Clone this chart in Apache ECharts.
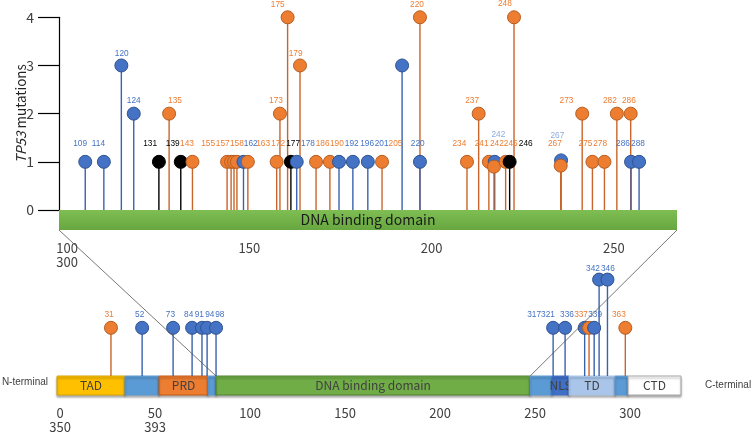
<!DOCTYPE html>
<html><head><meta charset="utf-8">
<script src="https://cdn.jsdelivr.net/npm/echarts@6/dist/echarts.min.js"></script>
<style>html,body{margin:0;padding:0;background:#fff}#c{width:752px;height:434px}</style>
</head><body><div id="c"></div>
<script>
// ---------- TOP PANEL (DNA binding domain, zoomed) ----------
// lollipop position along the zoomed axis, mutation count, group (b=blue, o=orange, k=black)
const topPos = [105.0,110.1,114.9,118.3,125.2,128.0,131.2,134.4,143.9,145.0,145.8,146.6,148.4,149.6,157.5,158.4,160.5,161.4,163.0,163.9,168.3,172.1,174.6,178.4,182.5,186.4,191.9,196.8,196.8,209.7,212.9,215.7,217.3,217.1,220.3,221.4,222.6,235.5,235.4,241.3,244.1,247.4,250.8,254.6,254.7,256.9];
const topVal = [1,1,3,2,1,2,1,1,1,1,1,1,1,1,1,2,4,1,1,3,1,1,1,1,1,1,3,4,1,1,2,1,1,0.9,1,1,4,1.03,0.92,2,1,1,2,2,1,1];
const topGrp = ['b','b','b','b','k','o','k','o','o','o','o','o','b','o','o','o','o','k','b','o','o','o','b','b','b','o','b','o','b','o','o','o','b','o','o','k','o','b','o','o','o','o','o','o','b','b'];
// residue labels: text, position along axis, height (in mutation units), group
const topLabText = ['109','114','120','124','131','135','139','143','155','157','158','162','163','172','173','175','177','178','179','186','190','192','196','201','205','220','220','234','237','241','242','245','246','242','248','267','267','273','275','278','282','286','286','288'];
const topLabX = [103.6,108.6,115.0,118.3,122.8,129.6,129.0,132.9,138.7,142.7,146.6,150.4,153.8,157.9,157.3,157.8,162.0,166.1,162.7,170.1,174.0,178.1,182.3,186.3,190.1,196.2,196.0,207.6,211.1,213.7,217.9,221.7,225.8,218.3,220.1,234.5,233.8,237.0,242.2,246.2,248.9,254.1,252.5,256.6];
const topLabY = [1.37,1.37,3.24,2.26,1.37,2.26,1.37,1.37,1.37,1.37,1.37,1.37,1.37,1.37,2.26,4.27,1.37,1.37,3.24,1.37,1.37,1.37,1.37,1.37,1.37,1.37,4.27,1.37,2.26,1.37,1.37,1.37,1.37,1.56,4.28,1.54,1.37,2.26,1.37,1.37,2.26,2.26,1.37,1.37];
const topLabGrp = ['b','b','b','b','k','o','k','o','o','o','o','b','o','o','o','o','k','b','o','o','o','b','b','b','o','b','o','o','o','o','o','o','k','lb','o','lb','o','o','o','o','o','o','b','b'];
const topAxisTicks = [100,150,200,250];
const topAxisText = {100:'100\n300'};
const yTicks = [0,1,2,3,4];

// ---------- BOTTOM PANEL (full protein) ----------
const botPos = [26.8,43.2,59.5,69.5,74.7,77.4,82.1,259.5,265.8,276.1,278.4,281.1,283.7,288.1,297.5];
const botVal = [1,1,1,1,1,1,1,1,1,1,1,1,2,2,1];
const botGrp = ['o','b','b','b','b','b','b','b','b','b','o','b','b','b','o'];
const botLabText = ['31','52','73','84','91','94','98','317','321','336','337','339','342','346','363'];
const botLabX = [25.8,41.9,58.1,67.7,73.3,78.8,84.1,249.5,256.8,266.8,274.2,281.6,280.5,288.3,294.1];
const botLabY = [1.27,1.27,1.27,1.27,1.27,1.27,1.27,1.27,1.27,1.27,1.27,1.27,2.22,2.22,1.27];
const botLabGrp = ['o','b','b','b','b','b','b','b','b','b','o','b','b','b','o'];
const botAxisTicks = [0,50,100,150,200,250,300];
const botAxisText = {0:'0\n350',50:'50\n393'};

// domains
const domName  = ['TAD','','PRD','','DNA binding domain','','NLS','TD','','CTD'];
const domStart = [-1.6,34.2,52.1,77.9,82.1,247.4,258.9,267.9,292.1,298.9];
const domEnd   = [34.2,52.1,77.9,82.1,247.4,258.9,267.9,292.1,298.9,326.8];
const topDomName = ['DNA binding domain'];
const topDomStart = [97.8];
const topDomEnd = [267.3];

// ---------- styles ----------
const FONT = '"Noto Sans CJK SC", "Noto Sans", sans-serif';
const FONT2 = '"Liberation Sans", Arial, sans-serif';
const grpStyle = {
  b:{fill:'#4472C4', stroke:'#2F528F', stem:'#3A62AE'},
  o:{fill:'#ED7D31', stroke:'#B65E22', stem:'#C9652A'},
  k:{fill:'#000000', stroke:'#000000', stem:'#000000'}
};
const labColor = {b:'#4472C4', o:'#ED7D31', k:'#000000', lb:'#8FAADC'};
const domStyle = {
  'TAD':{fill:'#FFC000', stroke:'#D9A300'},
  '':{fill:'#5B9BD5', stroke:'#5B9BD5'},
  'PRD':{fill:'#ED7D31', stroke:'#C55A11'},
  'DNA binding domain':{fill:'#70AD47', stroke:'#548235'},
  'NLS':{fill:'#3F6FC6', stroke:'#3F6FC6'},
  'TD':{fill:'#A9C6EA', stroke:'#A9C6EA'},
  'CTD':{fill:'#FFFFFF', stroke:'#A6A6A6'}
};

const chart = echarts.init(document.getElementById('c'), null, {renderer:'canvas'});

function stems(pos, val, grp) {
  return function(params, api){
    const i = params.dataIndex;
    const b = api.coord([pos[i], 0]), t = api.coord([pos[i], val[i]]);
    return {type:'line', shape:{x1:b[0],y1:b[1],x2:t[0],y2:t[1]},
      style:{stroke:grpStyle[grp[i]].stem, lineWidth:1.4}};
  };
}
function heads(pos, val, grp) {
  return function(params, api){
    const i = params.dataIndex;
    const t = api.coord([pos[i], val[i]]);
    const s = grpStyle[grp[i]];
    return {type:'circle', shape:{cx:t[0], cy:t[1], r:6.5},
      style:{fill:s.fill, stroke:s.stroke, lineWidth:1}};
  };
}
function labels(txt, x, y, grp) {
  return function(params, api){
    const i = params.dataIndex;
    const p = api.coord([x[i], y[i]]);
    return {type:'text', x:p[0], y:p[1],
      style:{text:txt[i], fill:labColor[grp[i]], fontSize:8.3, fontFamily:FONT2, align:'center', verticalAlign:'middle'}};
  };
}
function domains(names, st, en, fontSize, fancy) {
  return function(params, api){
    const i = params.dataIndex;
    const a = api.coord([st[i], 1]), b = api.coord([en[i], 0]);
    const ds = domStyle[names[i]];
    let fill = ds.fill;
    if (fancy) fill = {type:'linear', x:0,y:0,x2:0,y2:1, colorStops:[{offset:0,color:'#7EBE53'},{offset:1,color:'#68A63F'}]};
    return {type:'group', children:[
      {type:'rect', shape:{x:a[0], y:a[1], width:b[0]-a[0], height:b[1]-a[1]},
        style:{fill:fill, stroke:ds.stroke, lineWidth:fancy?0:1, shadowBlur:fancy?4:2, shadowOffsetY:2, shadowOffsetX:fancy?2:0, shadowColor:'rgba(0,0,0,0.3)'}},
      {type:'text', x:(a[0]+b[0])/2, y:(a[1]+b[1])/2,
        style:{text:names[i], fill:fancy?'#1a1a1a':'#404040', fontSize:fontSize, fontFamily:FONT, align:'center', verticalAlign:'middle'}}
    ]};
  };
}
const idx = a => a.map((_,i)=>[i]);

const option = {
  animation:false,
  backgroundColor:'#fff',
  textStyle:{fontFamily:FONT},
  grid:[
    {left:59, width:618, top:17.3, height:192.7},
    {left:59, width:618, top:210, height:20},
    {left:57, width:624, top:279.6, height:96.4},
    {left:57, width:624, top:376, height:21}
  ],
  xAxis:[
    {gridIndex:0, type:'value', min:topDomStart[0], max:topDomEnd[0], show:false},
    {gridIndex:1, type:'value', min:topDomStart[0], max:topDomEnd[0],
      axisLine:{show:false}, axisTick:{show:false}, splitLine:{show:false},
      axisLabel:{customValues:topAxisTicks, margin:11, fontSize:13, lineHeight:14, color:'#404040', fontFamily:FONT,
        formatter:v=>topAxisText[v]||String(v)}},
    {gridIndex:2, type:'value', min:domStart[0], max:domEnd[domEnd.length-1], show:false},
    {gridIndex:3, type:'value', min:domStart[0], max:domEnd[domEnd.length-1],
      axisLine:{show:false}, axisTick:{show:false}, splitLine:{show:false},
      axisLabel:{customValues:botAxisTicks, margin:11, fontSize:13, lineHeight:14, color:'#404040', fontFamily:FONT,
        formatter:v=>botAxisText[v]||String(v)}}
  ],
  yAxis:[
    {gridIndex:0, type:'value', min:0, max:4, interval:1,
      axisLine:{show:true, lineStyle:{color:'#000', width:1.2}},
      axisTick:{show:true, length:21, customValues:yTicks, lineStyle:{color:'#000', width:1.2}},
      axisLabel:{customValues:yTicks, margin:25, fontSize:14, color:'#404040', fontFamily:FONT},
      splitLine:{show:false},
      name:'{i|TP53} mutations', nameLocation:'middle', nameRotate:90, nameGap:31, nameMoveOverlap:false,
      nameTextStyle:{fontSize:13.5, color:'#222', fontFamily:FONT, rich:{i:{fontStyle:'italic', fontSize:13.5, color:'#222', fontFamily:FONT}}}},
    {gridIndex:1, type:'value', min:0, max:1, show:false},
    {gridIndex:2, type:'value', min:0, max:2, show:false},
    {gridIndex:3, type:'value', min:0, max:1, show:false}
  ],
  series:[
    {type:'custom', xAxisIndex:1, yAxisIndex:1, clip:false, data:idx(topDomName), renderItem:domains(topDomName, topDomStart, topDomEnd, 14, true), z:1},
    {type:'custom', xAxisIndex:0, yAxisIndex:0, clip:false, data:idx(topPos), renderItem:stems(topPos, topVal, topGrp), z:2},
    {type:'custom', xAxisIndex:0, yAxisIndex:0, clip:false, data:idx(topPos), renderItem:heads(topPos, topVal, topGrp), z:3},
    {type:'custom', xAxisIndex:0, yAxisIndex:0, clip:false, data:idx(topLabText), renderItem:labels(topLabText, topLabX, topLabY, topLabGrp), z:4},
    {type:'custom', xAxisIndex:3, yAxisIndex:3, clip:false, data:idx(domName), renderItem:domains(domName, domStart, domEnd, 12, false), z:1},
    {type:'custom', xAxisIndex:2, yAxisIndex:2, clip:false, data:idx(botPos), renderItem:stems(botPos, botVal, botGrp), z:2},
    {type:'custom', xAxisIndex:2, yAxisIndex:2, clip:false, data:idx(botPos), renderItem:heads(botPos, botVal, botGrp), z:3},
    {type:'custom', xAxisIndex:2, yAxisIndex:2, clip:false, data:idx(botLabText), renderItem:labels(botLabText, botLabX, botLabY, botLabGrp), z:4}
  ]
};
chart.setOption(option);

// connector lines from zoomed domain to its place on the full protein, via the axes
const dnaIdx = domName.indexOf('DNA binding domain');
const pL1 = chart.convertToPixel({xAxisIndex:1, yAxisIndex:1}, [topDomStart[0], 0]);
const pR1 = chart.convertToPixel({xAxisIndex:1, yAxisIndex:1}, [topDomEnd[0], 0]);
const pL2 = chart.convertToPixel({xAxisIndex:3, yAxisIndex:3}, [domStart[dnaIdx], 1]);
const pR2 = chart.convertToPixel({xAxisIndex:3, yAxisIndex:3}, [domEnd[dnaIdx], 1]);
const barMid = chart.convertToPixel({xAxisIndex:3, yAxisIndex:3}, [domStart[0], 0.5]);
const barEnd = chart.convertToPixel({xAxisIndex:3, yAxisIndex:3}, [domEnd[domEnd.length-1], 0.5]);
chart.setOption({graphic:[
  {type:'line', shape:{x1:pL1[0], y1:pL1[1], x2:pL2[0], y2:pL2[1]}, style:{stroke:'#555', lineWidth:0.8}, z:10},
  {type:'line', shape:{x1:pR1[0], y1:pR1[1], x2:pR2[0], y2:pR2[1]}, style:{stroke:'#555', lineWidth:0.8}, z:10},
  {type:'text', x:barMid[0]-9, y:barMid[1]-3, style:{text:'N-terminal', fill:'#404040', fontSize:10, fontFamily:FONT2, align:'right', verticalAlign:'middle'}},
  {type:'text', x:barEnd[0]+24, y:barEnd[1], style:{text:'C-terminal', fill:'#404040', fontSize:10, fontFamily:FONT2, align:'left', verticalAlign:'middle'}}
]});
</script>
</body></html>
